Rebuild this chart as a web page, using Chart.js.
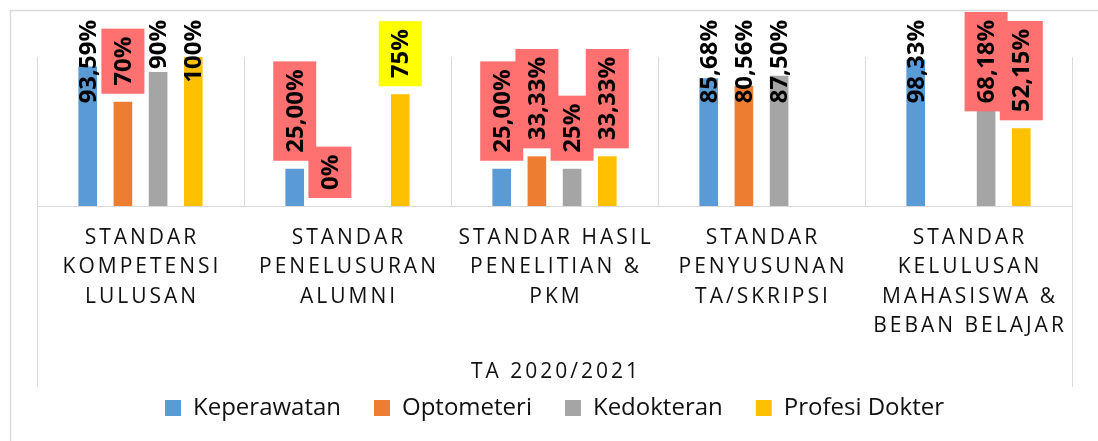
<!DOCTYPE html>
<html>
<head>
<meta charset="utf-8">
<script src="https://cdn.jsdelivr.net/npm/chart.js@4.4.1/dist/chart.umd.min.js"></script>
<style>
  html, body { margin: 0; padding: 0; background: #fff; }
  #wrap { width: 1098px; height: 441px; }
</style>
</head>
<body>
<div id="wrap"><canvas id="chart" width="1098" height="441"></canvas></div>
<script>
// categories (multi-line, as in the sheet) and the outer group label
const categories = [
  ["STANDAR", "KOMPETENSI", "LULUSAN"],
  ["STANDAR", "PENELUSURAN", "ALUMNI"],
  ["STANDAR HASIL", "PENELITIAN &", "PKM"],
  ["STANDAR", "PENYUSUNAN", "TA/SKRIPSI"],
  ["STANDAR", "KELULUSAN", "MAHASISWA &", "BEBAN BELAJAR"]
];
const groupLabel = "TA 2020/2021";
const seriesNames = ["Keperawatan", "Optometeri", "Kedokteran", "Profesi Dokter"];

// values (%)
const keperawatan = [93.59, 25, 25, 85.68, 98.33];
const optometeri = [70, 0, 33.33, 80.56, null];
const kedokteran = [90, null, 25, 87.5, 68.18];
const profesiDokter = [100, 75, 33.33, null, 52.15];

// label text as written in the cells
const keperawatanText = ["93,59%", "25,00%", "25,00%", "85,68%", "98,33%"];
const optometeriText = ["70%", "0%", "33,33%", "80,56%", null];
const kedokteranText = ["90%", null, "25%", "87,50%", "68,18%"];
const profesiDokterText = ["100%", "75%", "33,33%", null, "52,15%"];

// highlight fills behind some labels
const RED = "#FF7171", YEL = "#FFFF00";
const labelFills = [
  [null, RED, RED, null, null],
  [RED, RED, RED, null, null],
  [null, null, RED, null, RED],
  [null, YEL, RED, null, RED]
];

const colors = ["#5B9BD5", "#ED7D31", "#A5A5A5", "#FFC000"];
const seriesValues = [keperawatan, optometeri, kedokteran, profesiDokter];
const seriesText = [keperawatanText, optometeriText, kedokteranText, profesiDokterText];
const GRID = "#d9d9d9";

// chart border + outer dividers of the two-level axis
const framePlugin = {
  id: "frame",
  beforeDraw(chart) {
    const ctx = chart.ctx, a = chart.chartArea;
    ctx.save();
    ctx.strokeStyle = GRID;
    ctx.lineWidth = 1.5;
    ctx.beginPath();
    ctx.moveTo(10.5, 441);
    ctx.lineTo(10.5, 10.5);
    ctx.lineTo(1098, 10.5);
    ctx.stroke();
    ctx.lineWidth = 1;
    ctx.beginPath();
    [a.left, a.right].forEach(x => {
      const px = Math.round(x) + 0.5;
      ctx.moveTo(px, a.bottom);
      ctx.lineTo(px, a.bottom + 181);
    });
    ctx.stroke();
    ctx.restore();
  }
};

// spaced-out category labels and group label
const axisLabelPlugin = {
  id: "axisLabels",
  afterDraw(chart) {
    const ctx = chart.ctx, a = chart.chartArea, xs = chart.scales.x;
    ctx.save();
    ctx.font = "21px 'Open Sans'";
    ctx.letterSpacing = "3px";
    ctx.fillStyle = "#111";
    ctx.textAlign = "center";
    ctx.textBaseline = "middle";
    categories.forEach((lines, i) => {
      const cx = xs.getPixelForValue(i) + 1.5;
      lines.forEach((t, k) => ctx.fillText(t, cx, a.bottom + 32 + k * 29.4));
    });
    ctx.fillText(groupLabel, (a.left + a.right) / 2 + 1.5, a.bottom + 166);
    ctx.restore();
  }
};

// vertical value labels at the bar ends
const valueLabelPlugin = {
  id: "valueLabels",
  afterDatasetsDraw(chart) {
    const ctx = chart.ctx;
    ctx.save();
    ctx.font = "bold 24px 'Open Sans'";
    ctx.textAlign = "center";
    ctx.textBaseline = "middle";
    chart.data.datasets.forEach((ds, i) => {
      const meta = chart.getDatasetMeta(i);
      meta.data.forEach((bar, j) => {
        const txt = seriesText[i][j];
        if (ds.data[j] == null || !txt) return;
        const tw = ctx.measureText(txt).width;
        const boxH = tw + 16, boxW = 43;
        let top = bar.y - 8 - boxH;
        if (top < 12) top = 12;
        const fill = labelFills[i][j];
        if (fill) {
          ctx.fillStyle = fill;
          ctx.fillRect(bar.x - boxW / 2, top, boxW, boxH);
        }
        ctx.save();
        ctx.translate(bar.x + 1, top + boxH / 2);
        ctx.rotate(-Math.PI / 2);
        ctx.fillStyle = "#000";
        ctx.fillText(txt, 0, 0);
        ctx.restore();
      });
    });
    ctx.restore();
  }
};

new Chart(document.getElementById("chart"), {
  type: "bar",
  data: {
    labels: categories,
    datasets: seriesNames.map((name, i) => ({
      label: name,
      data: seriesValues[i],
      backgroundColor: colors[i],
      borderWidth: 0,
      categoryPercentage: 0.68,
      barPercentage: 0.53
    }))
  },
  options: {
    responsive: false,
    animation: false,
    layout: { padding: { left: 37, right: 26, top: 57, bottom: 18 } },
    scales: {
      x: {
        grid: { color: GRID, drawTicks: false, offset: true },
        border: { color: GRID },
        ticks: { display: false },
        afterFit(s) { s.height = 157; }
      },
      y: { display: false, min: 0, max: 100 }
    },
    plugins: {
      legend: {
        position: "bottom",
        maxHeight: 60,
        labels: {
          font: { family: "'Open Sans'", size: 24 },
          color: "#111",
          boxWidth: 16,
          boxHeight: 16,
          padding: 33
        }
      },
      tooltip: { enabled: false }
    }
  },
  plugins: [framePlugin, axisLabelPlugin, valueLabelPlugin]
});
</script>
</body>
</html>
